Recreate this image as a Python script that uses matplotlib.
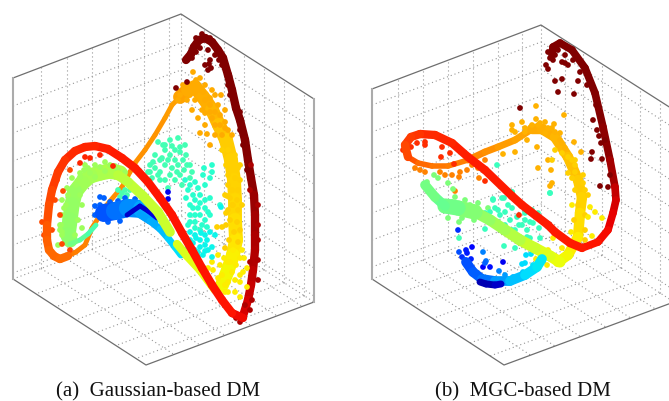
import numpy as np
import matplotlib
matplotlib.use("Agg")
import matplotlib.pyplot as plt
from matplotlib.collections import LineCollection

# ---------- box geometry (image pixels) ----------
a_corners = dict(top=(181, 14), left=(13, 78), right=(314, 99),
                 lbot=(13, 279), rbot=(314, 302), front=(146, 365), back=(181, 216))
a_heights = [6, 34, 62, 90, 118, 146, 173]
a_left_ticks = [.167, .32, .47, .625, .78, .93]
a_right_ticks = [.173, .323, .474, .624, .774, .925]

b_corners = dict(top=(541, 25), left=(372, 89), right=(674, 110),
                 lbot=(372, 279), rbot=(674, 302), front=(504, 365), back=(541, 216))
b_heights = [12, 39, 66, 93, 120, 147, 174]
b_left_ticks = [.156, .30, .45, .60, .745, .89]
b_right_ticks = [.18, .316, .459, .60, .744, .895]

# ---------- panel (a): dense strands ----------
a_dark_x = [186, 191, 194, 199, 205, 212, 218, 223, 228, 232, 236, 240, 245, 248, 251, 254, 255, 255, 255, 253, 251, 248, 243]
a_dark_y = [60, 54, 47, 40, 38, 42, 50, 58, 75, 90, 108, 120, 140, 160, 178, 195, 215, 235, 250, 270, 285, 300, 316]
a_dark_c = [1, 1, 1, 1, 1, 1, 1, 1, 1, 1, 1, 1, 1, .99, .99, .98, .97, .96, .96, .95, .94, .93, .92]

a_red_x = [243, 232, 222, 212, 202, 192, 182, 172, 160, 148, 135, 122, 108, 95, 85, 75, 65, 58, 52, 49, 47, 47, 49, 54, 60, 68]
a_red_y = [318, 313, 300, 285, 268, 250, 233, 215, 198, 182, 168, 158, 149, 146, 147, 151, 160, 172, 190, 205, 225, 240, 250, 256, 259, 256]
a_red_c = [.91, .89, .89, .89, .89, .89, .89, .89, .89, .89, .88, .88, .88, .87, .87, .87, .86, .85, .84, .83, .82, .81, .80, .80, .80, .79]

a_orange_x = [68, 76, 85, 92, 105, 122, 130, 135, 145, 155, 165, 172, 180]
a_orange_y = [256, 252, 245, 228, 207, 187, 172, 163, 150, 135, 118, 105, 97]
a_orange_c = [.78, .78, .77, .77, .76, .76, .76, .76, .75, .75, .75, .74, .74]

a_gold_x = [180, 188, 195, 203, 212, 219, 226, 231, 234, 235, 235, 236, 233, 228, 222]
a_gold_y = [97, 90, 87, 97, 110, 125, 140, 160, 180, 200, 220, 240, 255, 270, 285]
a_gold_c = [.74, .73, .73, .73, .72, .71, .70, .69, .69, .68, .68, .67, .66, .65, .64]

a_yellow_x = [215, 200, 187, 177]
a_yellow_y = [290, 270, 256, 244]
a_yellow_c = [.64, .63, .62, .61]

a_lime_x = [170, 158, 143, 128, 118]
a_lime_y = [232, 212, 196, 182, 175]
a_lime_c = [.60, .59, .59, .58, .57]

a_green_x = [120, 110, 100, 90, 82, 75, 72, 70, 68, 70]
a_green_y = [173, 171, 173, 176, 183, 192, 205, 220, 235, 240]
a_green_c = [.57, .56, .56, .55, .55, .54, .53, .53, .52, .52]

a_tail_x = [70, 80, 88, 96]
a_tail_y = [244, 240, 234, 225]
a_tail_c = [.50, .47, .45, .43]

a_blue_x = [104, 115, 128, 142, 152]
a_blue_y = [213, 211, 208, 209, 216]
a_blue_c = [.20, .22, .25, .28, .30]

a_sky_x = [140, 150, 160, 168, 175, 181]
a_sky_y = [215, 221, 229, 238, 247, 255]
a_sky_c = [.28, .29, .30, .32, .34, .35]

a_navy_x = [127, 140, 148, 157]
a_navy_y = [215, 206, 211, 218]
a_navy_c = [.07, .06, .07, .09]

# ---------- panel (a): scattered points, one colour per group ----------
a_teal_x = [158, 170, 178, 172, 180, 185, 165, 155, 160, 150, 155, 148, 162, 170, 175, 180, 186, 190, 165, 172, 178, 184, 192, 180, 190, 170, 160, 145, 152, 160, 168,
            163, 175, 168, 153, 183, 177, 187, 158, 150, 165, 175, 182, 165]
a_teal_y = [142, 140, 138, 146, 147, 145, 150, 155, 160, 165, 168, 172, 158, 155, 160, 152, 155, 165, 165, 168, 165, 170, 172, 175, 178, 175, 172, 178, 178, 180, 188,
            145, 150, 160, 162, 160, 172, 165, 175, 172, 180, 180, 185, 145]
a_aqua_x = [185, 195, 188, 193, 198, 205, 210, 204, 203, 212, 195, 190, 198, 205, 210, 200, 190, 195, 205, 210, 188, 200, 212, 208, 220,
            190, 200, 193, 200, 186, 195, 205, 190, 202, 195, 207]
a_aqua_y = [180, 182, 190, 195, 188, 185, 178, 168, 175, 165, 200, 205, 208, 200, 198, 215, 215, 222, 220, 215, 225, 230, 172, 212, 205,
            185, 195, 208, 203, 198, 215, 208, 222, 225, 228, 227]
a_cyan_x = [195, 190, 200, 205, 210, 188, 195, 185, 205, 215, 198, 190, 208, 203, 212, 212, 221,
            193, 200, 196, 207, 189, 201, 192, 198, 205]
a_cyan_y = [235, 240, 240, 235, 232, 248, 250, 238, 245, 235, 252, 232, 250, 255, 247, 257, 207,
            243, 247, 238, 240, 243, 233, 255, 256, 251]
a_top_x = [183, 193, 196, 185, 190, 200, 205, 212, 178, 195, 205, 215, 221, 218, 225, 200, 210, 220, 192, 198, 205, 212, 225, 228, 222, 232, 215, 205, 200, 210, 207,
           180, 190, 198, 187, 195, 203, 210, 215, 202, 210, 220, 225, 215]
a_top_y = [85, 72, 80, 90, 95, 78, 85, 90, 100, 100, 100, 95, 95, 105, 110, 90, 105, 115, 110, 118, 113, 118, 122, 130, 135, 135, 125, 125, 133, 145, 134,
           95, 85, 90, 100, 93, 92, 98, 112, 110, 112, 125, 128, 135]
a_mid_x = [222, 228, 235, 232, 226, 238, 228, 235, 240, 232, 238, 228, 240, 226, 222, 232, 227, 217, 225, 242,
           225, 230, 237, 233, 228, 238, 230, 237, 226, 234, 240, 229, 238]
a_mid_y = [150, 150, 155, 165, 165, 168, 175, 178, 165, 190, 190, 185, 180, 213, 227, 205, 196, 227, 248, 205,
           195, 198, 200, 205, 210, 210, 220, 222, 225, 232, 230, 240, 242]
a_low_x = [213, 247, 247, 240, 218, 212, 225, 235, 228, 240, 218, 230, 208, 244,
           220, 228, 236, 243, 222, 232, 240, 228, 235, 225, 242, 233, 224, 240]
a_low_y = [270, 268, 287, 297, 255, 262, 285, 280, 292, 275, 278, 262, 268, 258,
           265, 262, 265, 272, 275, 272, 282, 282, 292, 292, 250, 250, 258, 258]
a_lgreen_x = [80, 90, 100, 110, 118, 67, 68, 62, 66, 61, 85, 62, 60, 84, 80, 58, 95, 105,
              72, 76, 62, 64, 80, 82, 60, 78, 75, 82, 62, 95, 105, 115, 125, 88]
a_lgreen_y = [173, 173, 167, 165, 170, 188, 195, 215, 205, 225, 165, 235, 230, 170, 177, 245, 177, 171,
              178, 185, 200, 208, 195, 205, 225, 220, 235, 228, 232, 165, 162, 166, 172, 168]
a_mint_x = [122, 127, 130, 125, 120, 118, 126]
a_mint_y = [193, 195, 190, 190, 197, 190, 198]
a_bluept_x = [95, 95, 100, 104, 100, 110, 118, 125, 108, 135, 142, 120]
a_bluept_y = [206, 215, 197, 198, 205, 202, 201, 198, 222, 199, 203, 221]
a_navypt_x = [168, 167, 168]
a_navypt_y = [199, 207, 192]
a_redpt_x = [85, 90, 100, 80, 113, 125]
a_redpt_y = [157, 158, 155, 163, 166, 160]
a_orpt_x = [63, 70, 62, 70, 55, 60, 57, 52, 44, 42]
a_orpt_y = [191, 170, 244, 250, 200, 215, 180, 230, 235, 222]
a_crown_x = [176, 187, 208, 209, 219, 211, 202, 210, 215, 200, 208, 215, 210, 205, 222, 228, 234, 230, 240, 243, 250, 240, 247, 192, 196, 196]
a_crown_y = [88, 82, 70, 64, 60, 68, 34, 38, 45, 48, 50, 55, 60, 65, 65, 85, 100, 95, 130, 145, 165, 112, 170, 58, 52, 38]
a_brick_x = [250, 251, 258, 258, 258, 258, 250, 258, 252, 236, 240, 250, 245]
a_brick_y = [190, 165, 205, 225, 240, 260, 262, 280, 300, 318, 322, 310, 305]

# ---------- panel (b): dense strands ----------
b_dark_x = [552, 553, 560, 572, 585, 595, 603, 610, 615, 616, 613, 608, 598, 582]
b_dark_y = [55, 47, 43, 50, 68, 93, 127, 160, 187, 200, 213, 230, 242, 248]
b_dark_c = [1, 1, 1, 1, 1, 1, .99, .98, .95, .93, .92, .90, .89, .88]

b_red_x = [582, 570, 555, 548, 522, 512, 485, 468, 452, 435, 420, 411, 405, 408]
b_red_y = [248, 243, 232, 225, 205, 196, 170, 157, 143, 135, 134, 137, 145, 157]
b_red_c = [.88, .88, .88, .88, .88, .88, .88, .88, .87, .87, .86, .85, .84, .83]

b_loop_x = [408, 418, 432, 448, 468]
b_loop_y = [157, 163, 166, 166, 160]
b_loop_c = [.83, .81, .79, .78, .77]

b_thin_x = [468, 485, 498, 515, 532]
b_thin_y = [160, 152, 147, 140, 129]
b_thin_c = [.77, .76, .75, .74, .73]

b_gold_x = [532, 542, 555, 568, 578, 582, 580, 578, 568, 558]
b_gold_y = [129, 129, 137, 157, 180, 197, 213, 237, 255, 262]
b_gold_c = [.73, .73, .72, .71, .70, .69, .68, .67, .65, .64]

b_lime_x = [560, 550, 535, 520, 505, 490, 475]
b_lime_y = [262, 256, 248, 240, 230, 220, 212]
b_lime_c = [.64, .63, .61, .58, .56, .54, .52]

b_green_x = [475, 458, 445]
b_green_y = [212, 208, 206]
b_green_c = [.52, .50, .47]

b_neck_x = [445, 435, 425]
b_neck_y = [206, 197, 185]
b_neck_c = [.47, .48, .50]

b_arc_x = [466, 473, 482, 495, 510, 525, 537, 542]
b_arc_y = [262, 272, 279, 281, 281, 275, 267, 259]
b_arc_c = [.20, .21, .22, .26, .30, .33, .35, .36]

b_navy_x = [480, 486, 495, 501]
b_navy_y = [282, 284, 285, 284]
b_navy_c = [.05, .04, .05, .08]

# ---------- panel (b): scattered points ----------
b_crown_x = [546, 548, 555, 562, 558, 574, 578, 520, 593, 597, 599, 601, 592, 591, 602, 600, 608, 562, 568, 565, 555, 558, 565, 553, 573, 580, 587, 596, 600, 605, 610, 548, 550]
b_crown_y = [65, 69, 81, 79, 92, 94, 81, 108, 120, 130, 136, 143, 152, 159, 159, 186, 187, 62, 65, 63, 55, 50, 55, 60, 60, 72, 85, 105, 115, 140, 175, 52, 58]
b_top_x = [536, 564, 536, 522, 512, 512, 554, 560, 581, 574, 503, 515, 538, 548, 551, 552, 550, 537, 527, 515, 525, 532, 540, 548, 555, 562,
           525, 538, 545, 552, 560, 565, 545]
b_top_y = [106, 115, 119, 122, 125, 130, 124, 133, 152, 142, 154, 152, 168, 160, 170, 183, 186, 147, 140, 132, 128, 125, 123, 128, 132, 143,
           132, 125, 133, 128, 140, 148, 122]
b_mid_x = [568, 575, 562, 555, 552, 568, 575, 583, 585, 575, 572, 575, 583, 572, 588, 578, 585, 574, 585, 572, 585]
b_mid_y = [157, 160, 153, 150, 160, 173, 172, 183, 190, 190, 160, 165, 175, 178, 195, 205, 215, 220, 230, 245, 240]
b_low_x = [572, 590, 595, 602, 588, 571, 592, 553, 562, 547, 548, 536, 541]
b_low_y = [205, 207, 212, 218, 217, 232, 236, 238, 248, 265, 250, 259, 255]
b_orange_x = [485, 479, 459, 452, 445, 425, 415, 472, 467, 455, 420, 440, 460, 478]
b_orange_y = [160, 178, 177, 175, 175, 172, 168, 165, 170, 191, 170, 172, 172, 168]
b_redpt_x = [417, 441, 450, 454, 442, 485, 519, 411, 425, 403, 425]
b_redpt_y = [143, 157, 153, 164, 147, 181, 215, 147, 142, 150, 145]
b_lgreen_x = [438, 448, 434, 453, 430, 427, 433, 455, 465, 478, 488, 470, 452, 440, 448, 462, 474, 459]
b_lgreen_y = [178, 183, 175, 189, 190, 182, 195, 197, 200, 203, 208, 205, 202, 200, 218, 218, 220, 222]
b_teal_x = [550, 497, 512, 504, 493, 512, 493, 502, 495, 498, 505, 512, 517, 510, 500, 525, 522, 527, 532, 538, 539, 540, 530, 527, 515, 504, 485, 520, 533, 550, 485, 490, 505, 515, 525,
            490, 508, 519, 530, 512, 498]
b_teal_y = [193, 165, 192, 198, 199, 192, 200, 198, 208, 210, 212, 208, 217, 220, 215, 213, 225, 230, 210, 213, 228, 238, 238, 237, 248, 246, 229, 237, 223, 193, 213, 222, 225, 230, 220,
            212, 205, 225, 222, 230, 222]
b_spray_x = [458, 459, 466, 472, 467, 462, 471, 465, 483, 486, 503, 490, 483, 499, 505, 513, 523, 522, 525, 533, 531, 526, 485, 459]
b_spray_y = [230, 252, 250, 247, 253, 257, 259, 260, 252, 261, 262, 267, 267, 271, 275, 277, 272, 264, 263, 265, 254, 255, 263, 238]
b_spray_c = [.17, .20, .15, .13, .15, .17, .16, .18, .25, .24, .10, .14, .12, .25, .28, .30, .33, .34, .34, .35, .35, .34, .22, .43]

captions = ["(a)  Gaussian-based DM", "(b)  MGC-based DM"]

# ---------- drawing ----------
fig = plt.figure(figsize=(6.69, 4.01), dpi=100)
ax = fig.add_axes([0, 0, 1, 1])
ax.set_xlim(0, 669)
ax.set_ylim(401, 0)
ax.axis("off")
jet = matplotlib.colormaps["jet"]
GRID = dict(color="#969696", lw=0.8, ls=(0, (1, 2.6)), zorder=1)


def lerp(p, q, t):
    return (p[0] + (q[0] - p[0]) * t, p[1] + (q[1] - p[1]) * t)


def box(c, heights, lt, rt):
    for h in heights:
        ax.plot([c["lbot"][0], c["back"][0], c["rbot"][0]],
                [c["lbot"][1] - h, c["back"][1] - h, c["rbot"][1] - h], **GRID)
    for t in lt:
        p, q = lerp(c["lbot"], c["back"], t), lerp(c["left"], c["top"], t)
        r = lerp(c["front"], c["rbot"], t)
        ax.plot([p[0], q[0]], [p[1], q[1]], **GRID)
        ax.plot([p[0], r[0]], [p[1], r[1]], **GRID)
    for t in rt:
        p, q = lerp(c["back"], c["rbot"], t), lerp(c["top"], c["right"], t)
        r = lerp(c["lbot"], c["front"], t)
        ax.plot([p[0], q[0]], [p[1], q[1]], **GRID)
        ax.plot([p[0], r[0]], [p[1], r[1]], **GRID)
    ax.plot([c["back"][0]] * 2, [c["top"][1], c["back"][1]], **GRID)
    ax.plot([c["lbot"][0], c["back"][0], c["rbot"][0]], [c["lbot"][1], c["back"][1], c["rbot"][1]], **GRID)
    edge = dict(color="#6e6e6e", lw=0.9, zorder=2)
    ax.plot([c["left"][0], c["top"][0], c["right"][0]], [c["left"][1], c["top"][1], c["right"][1]], **edge)
    ax.plot([c["lbot"][0], c["front"][0], c["rbot"][0]], [c["lbot"][1], c["front"][1], c["rbot"][1]], **edge)
    thick = dict(color="#ababab", lw=1.5, zorder=2)
    ax.plot([c["left"][0]] * 2, [c["left"][1], c["lbot"][1]], **thick)
    ax.plot([c["right"][0]] * 2, [c["right"][1], c["rbot"][1]], **thick)


def band(x, y, c, width, z):
    pts = np.column_stack([x, y])
    segs = np.stack([pts[:-1], pts[1:]], axis=1)
    cols = jet((np.array(c[:-1]) + np.array(c[1:])) / 2)
    ax.add_collection(LineCollection(segs, colors=cols, linewidths=width, capstyle="round",
                                     joinstyle="round", zorder=z))


def cloud(x, y, c, z=4):
    col = c if np.ndim(c) else [c] * len(x)
    ax.scatter(x, y, c=col, cmap=jet, vmin=0, vmax=1, s=17, linewidths=0, zorder=z)


box(a_corners, a_heights, a_left_ticks, a_right_ticks)
box(b_corners, b_heights, b_left_ticks, b_right_ticks)

band(a_dark_x, a_dark_y, a_dark_c, 6, 3)
band(a_orange_x, a_orange_y, a_orange_c, 3.5, 3)
band(a_gold_x, a_gold_y, a_gold_c, 10, 3)
cloud(a_top_x, a_top_y, .73)
cloud(a_mid_x, a_mid_y, .69)
cloud(a_low_x, a_low_y, .66)
cloud(a_teal_x, a_teal_y, .43)
cloud(a_aqua_x, a_aqua_y, .40)
cloud(a_cyan_x, a_cyan_y, .365)
cloud(a_crown_x, a_crown_y, 1.0)
cloud(a_brick_x, a_brick_y, .96)
cloud(a_orpt_x, a_orpt_y, .83, 8)
cloud(a_redpt_x, a_redpt_y, .87, 8)
cloud(a_mint_x, a_mint_y, .44, 4)
cloud(a_navypt_x, a_navypt_y, .10, 4)
band(a_green_x, a_green_y, a_green_c, 11, 5)
cloud(a_lgreen_x, a_lgreen_y, .54, 5)
band(a_tail_x, a_tail_y, a_tail_c, 3.5, 5)
cloud(a_bluept_x, a_bluept_y, .22, 6)
band(a_blue_x, a_blue_y, a_blue_c, 13, 6)
band(a_sky_x, a_sky_y, a_sky_c, 5, 6)
band(a_navy_x, a_navy_y, a_navy_c, 3.5, 7)
band(a_yellow_x, a_yellow_y, a_yellow_c, 6, 8)
band(a_lime_x, a_lime_y, a_lime_c, 7, 8)
band(a_red_x, a_red_y, a_red_c, 6, 9)

band(b_dark_x, b_dark_y, b_dark_c, 5.5, 3)
band(b_thin_x, b_thin_y, b_thin_c, 5, 3)
band(b_gold_x, b_gold_y, b_gold_c, 7.5, 3)
cloud(b_crown_x, b_crown_y, 1.0)
cloud(b_top_x, b_top_y, .72)
cloud(b_mid_x, b_mid_y, .69)
cloud(b_low_x, b_low_y, .66)
cloud(b_orange_x, b_orange_y, .77)
cloud(b_lgreen_x, b_lgreen_y, .50)
cloud(b_teal_x, b_teal_y, .42)
cloud(b_spray_x, b_spray_y, b_spray_c)
band(b_lime_x, b_lime_y, b_lime_c, 8, 5)
band(b_green_x, b_green_y, b_green_c, 11, 5)
band(b_neck_x, b_neck_y, b_neck_c, 7, 5)
band(b_arc_x, b_arc_y, b_arc_c, 7, 6)
band(b_navy_x, b_navy_y, b_navy_c, 5, 7)
band(b_loop_x, b_loop_y, b_loop_c, 4, 8)
cloud(b_redpt_x, b_redpt_y, .86, 8)
band(b_red_x, b_red_y, b_red_c, 6, 9)

for x, s in zip([158.5, 522.5], captions):
    ax.text(x, 396.5, s, family="Liberation Serif", fontsize=15, ha="center", va="baseline", color="#111111")

fig.savefig("out.png", dpi=100)
